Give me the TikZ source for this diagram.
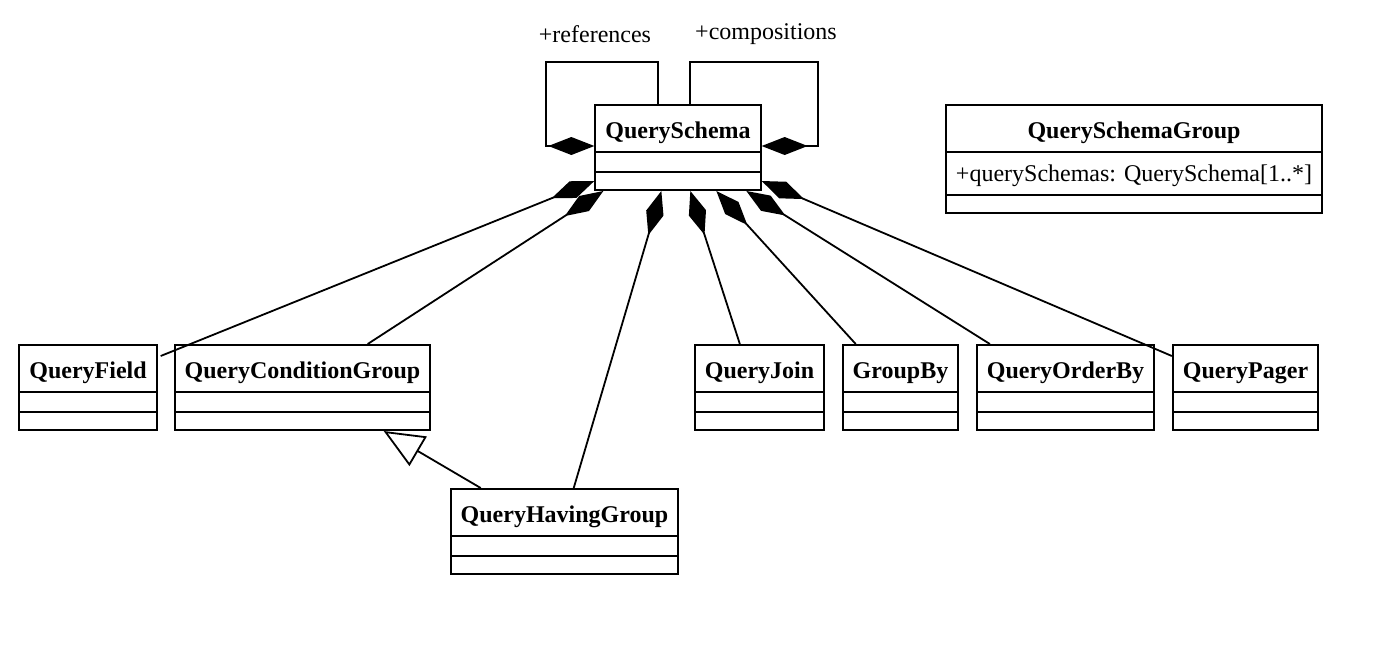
\documentclass[tikz,border=0pt]{standalone}
\usepackage{fontspec}
\setmainfont{Liberation Serif}
\usetikzlibrary{shapes.multipart,arrows.meta,calc}

\newcommand{\classname}[1]{\textbf{#1}\rule[-6.5pt]{0pt}{22.5pt}}
\newcommand{\blankpart}[1]{\rule{0pt}{#1}}

\tikzset{
  umlclass/.style={draw, line width=1pt, rectangle split, rectangle split parts=3, inner xsep=5pt, inner ysep=0pt, anchor=north, font=\fontsize{12}{14}\selectfont},
  composite/.style={line width=0.9pt, -{Diamond[length=23pt,width=9pt]}},
  inherit/.style={line width=0.9pt, -{Triangle[open,length=20pt,width=17pt]}},
  rolelabel/.style={font=\fontsize{12}{14}\selectfont, inner sep=0pt},
}

\begin{document}
\begin{tikzpicture}[x=0.5pt, y=-0.5pt]
    \useasboundingbox (0,0) rectangle (1400,654);

    % classes
    \node[umlclass] (QuerySchema) at (678,104) {\classname{QuerySchema}\nodepart{second}\blankpart{9pt}\nodepart{third}\blankpart{8pt}};
    \node[umlclass, rectangle split part align={center,left,left}] (QuerySchemaGroup) at (1134,104) {\classname{QuerySchemaGroup}\nodepart{second}+querySchemas: QuerySchema[1..*]\rule[-6.5pt]{0pt}{20.5pt}\nodepart{third}\blankpart{8pt}};

    \node[umlclass] (QueryField) at (88,344) {\classname{QueryField}\nodepart{second}\blankpart{9pt}\nodepart{third}\blankpart{8pt}};
    \node[umlclass] (QueryConditionGroup) at (302.5,344) {\classname{QueryConditionGroup}\nodepart{second}\blankpart{9pt}\nodepart{third}\blankpart{8pt}};
    \node[umlclass] (QueryJoin) at (759.5,344) {\classname{QueryJoin}\nodepart{second}\blankpart{9pt}\nodepart{third}\blankpart{8pt}};
    \node[umlclass] (GroupBy) at (900.5,344) {\classname{GroupBy}\nodepart{second}\blankpart{9pt}\nodepart{third}\blankpart{8pt}};
    \node[umlclass] (QueryOrderBy) at (1065.5,344) {\classname{QueryOrderBy}\nodepart{second}\blankpart{9pt}\nodepart{third}\blankpart{8pt}};
    \node[umlclass] (QueryPager) at (1245.5,344) {\classname{QueryPager}\nodepart{second}\blankpart{9pt}\nodepart{third}\blankpart{8pt}};

    \node[umlclass] (QueryHavingGroup) at (564.5,488) {\classname{QueryHavingGroup}\nodepart{second}\blankpart{9pt}\nodepart{third}\blankpart{8pt}};

    % self associations
    \draw[composite] ($(QuerySchema.north west)+(64,0)$) -- ++(0,-42) -| ($(QuerySchema.north west)+(-48,42)$) -- ($(QuerySchema.north west)+(0,42)$);
    \draw[composite] ($(QuerySchema.north west)+(96,0)$) -- ++(0,-42) -| ($(QuerySchema.north east)+(56,42)$) -- ($(QuerySchema.north east)+(0,42)$);
    \node[rolelabel] (refLabel) at (595,34) {+references};
    \node[rolelabel] (compLabel) at (766,34) {+compositions};

    % compositions
    \draw[composite] ($(QueryField.north east)+(3,12)$) -- ($(QuerySchema.south west)+(0,-10)$);
    \draw[composite] ($(QueryConditionGroup.north west)+(194,0)$) -- ($(QuerySchema.south west)+(9,0)$);
    \draw[composite] ($(QueryHavingGroup.north west)+(124,0)$) -- ($(QuerySchema.south west)+(67,0)$);
    \draw[composite] ($(QueryJoin.north west)+(46,0)$) -- ($(QuerySchema.south west)+(96,0)$);
    \draw[composite] ($(GroupBy.north west)+(14,0)$) -- ($(QuerySchema.south west)+(122,0)$);
    \draw[composite] ($(QueryOrderBy.north west)+(14,0)$) -- ($(QuerySchema.south west)+(152,0)$);
    \draw[composite] ($(QueryPager.north west)+(0,12)$) -- ($(QuerySchema.south east)+(0,-10)$);

    % generalization
    \draw[inherit] ($(QueryHavingGroup.north west)+(31,0)$) -- ($(QueryConditionGroup.south west)+(210,0)$);
\end{tikzpicture}
\end{document}
